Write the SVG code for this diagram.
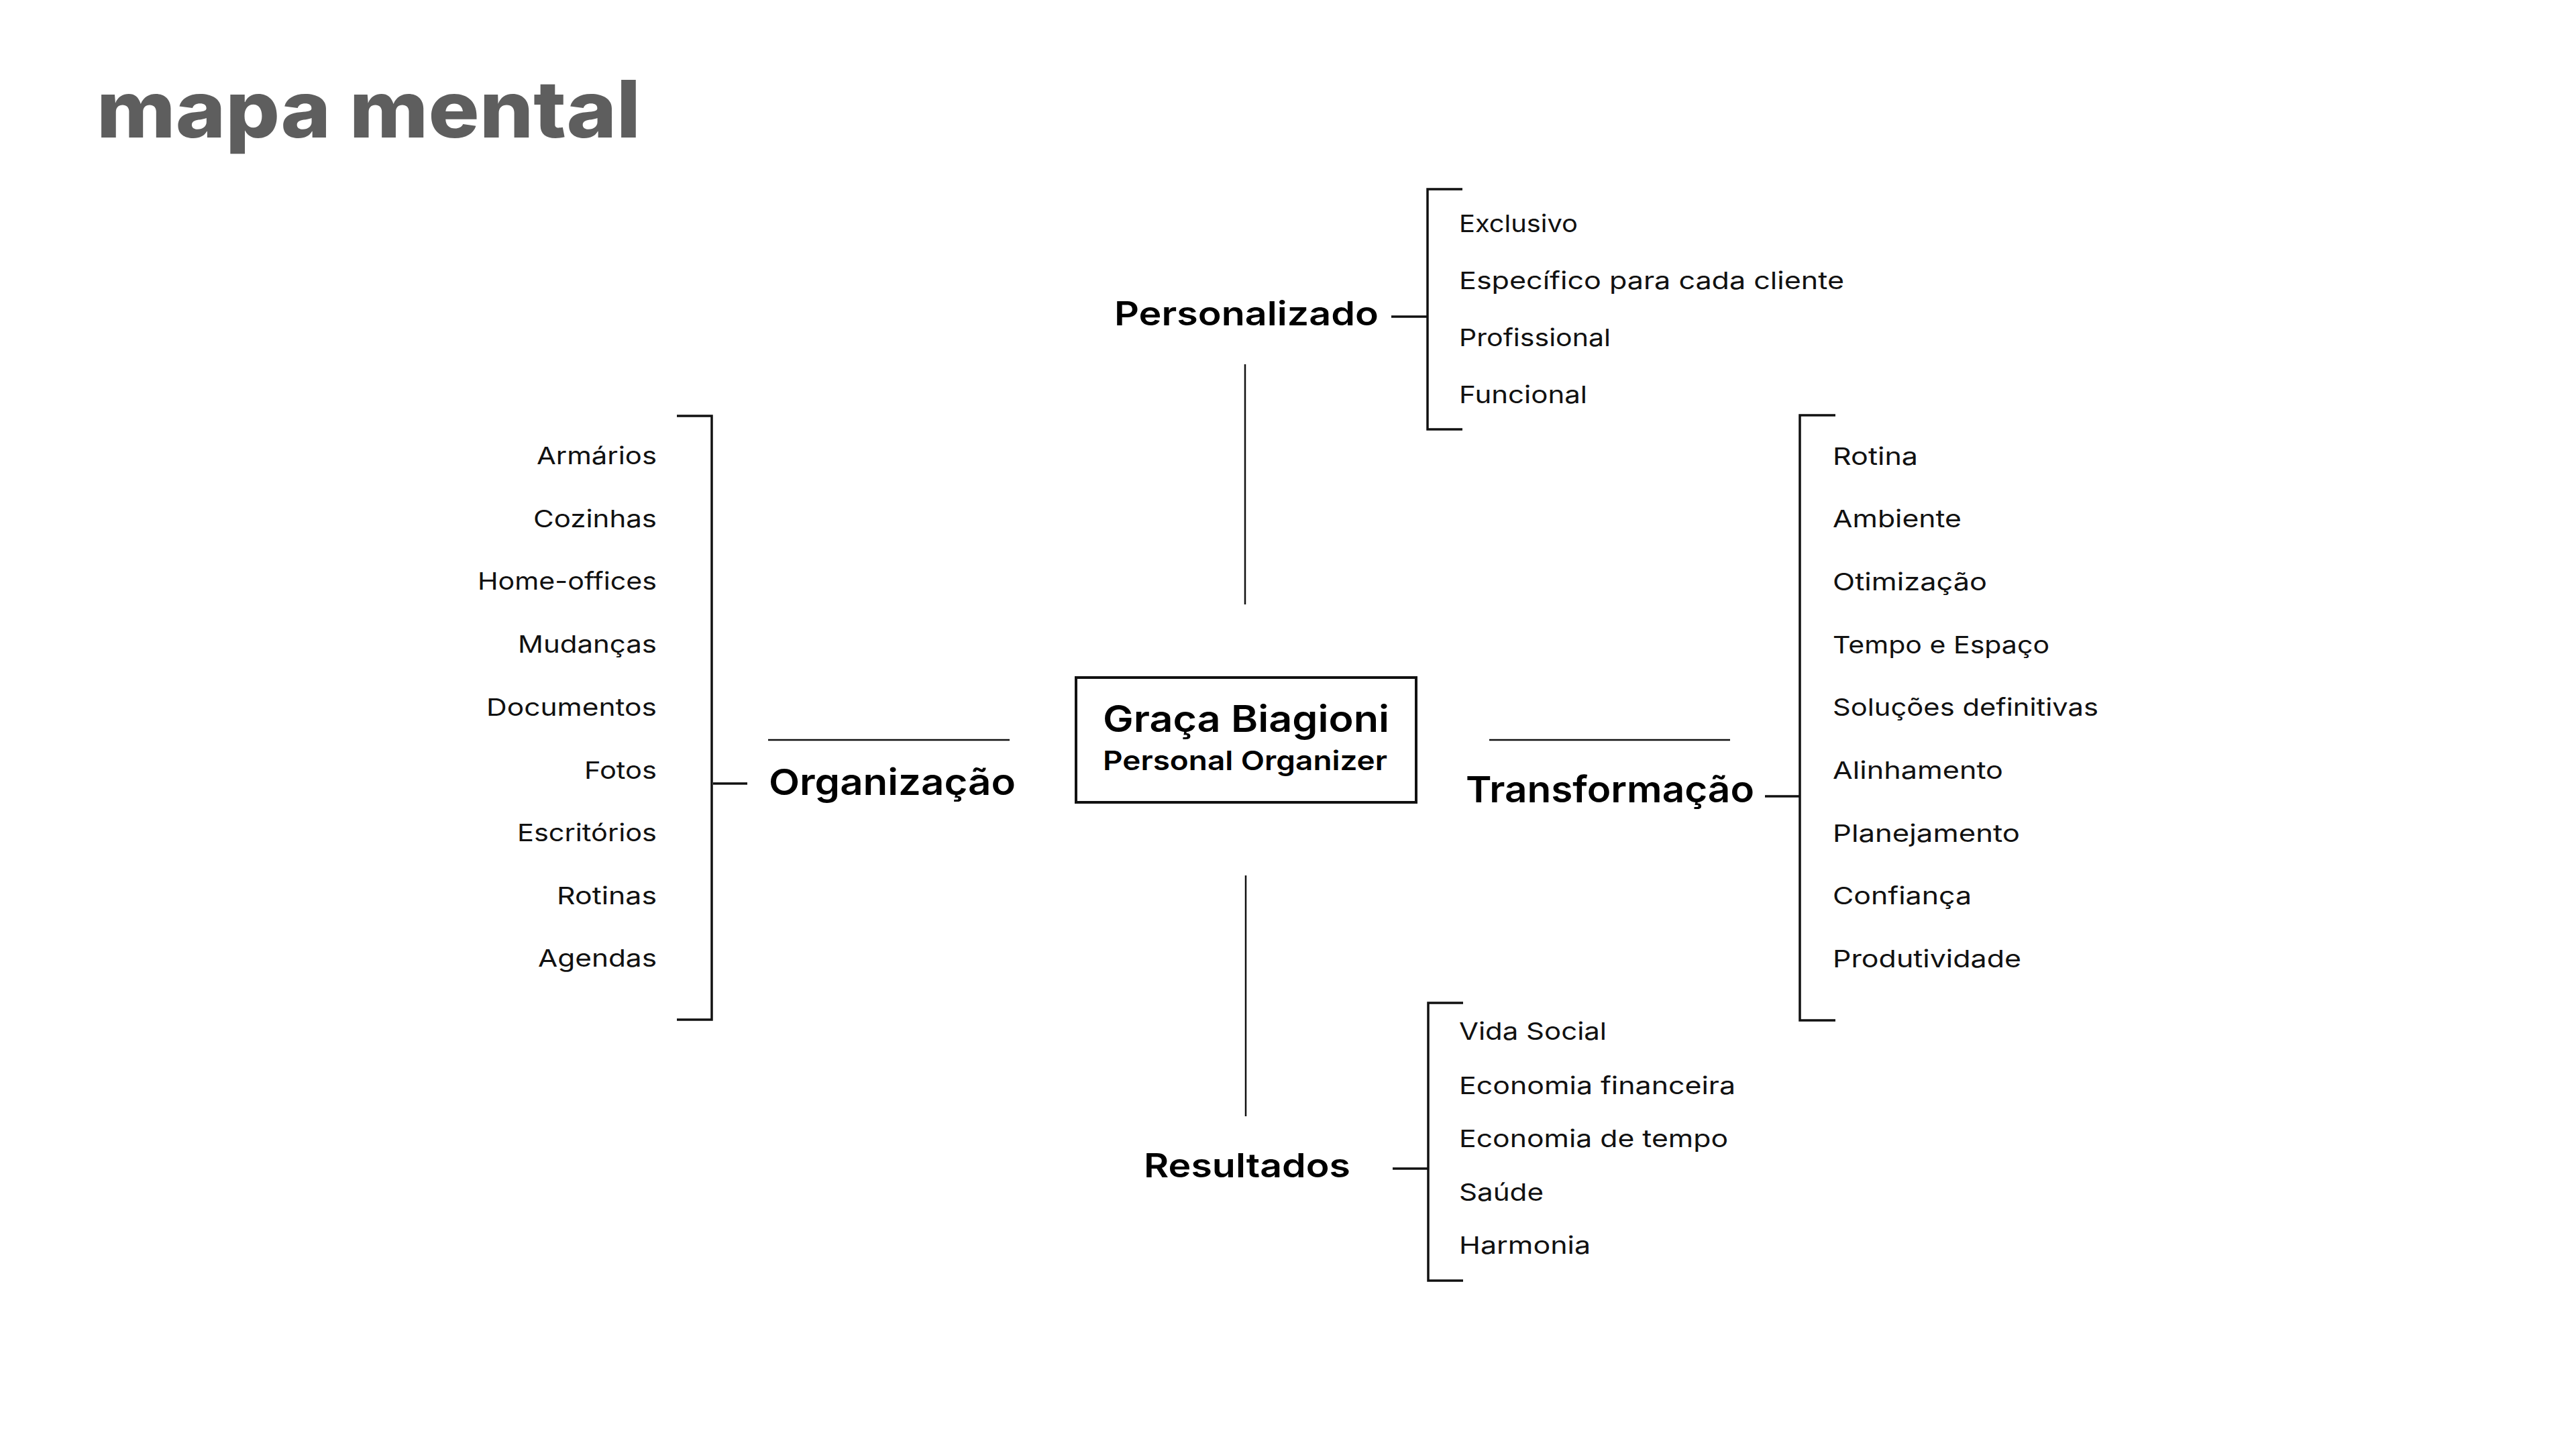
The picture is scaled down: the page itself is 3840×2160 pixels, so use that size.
<svg xmlns="http://www.w3.org/2000/svg" width="3840" height="2160" viewBox="0 0 3840 2160">
<style>
.title{font-family:Inter,"Liberation Sans",sans-serif;font-weight:800;font-size:118px;fill:#5e5e5e}
.lbl{font-family:Inter,"Liberation Sans",sans-serif;font-weight:600;fill:#000}
.item{font-family:Inter,"Liberation Sans",sans-serif;font-weight:400;font-size:36px;fill:#111}
.end{text-anchor:end}
.brk{fill:none;stroke:#111;stroke-width:3.5}
.thin{fill:none;stroke:#111;stroke-width:2.5}
.box{fill:#fff;stroke:#111;stroke-width:4}
</style>
<rect width="3840" height="2160" fill="#fff"/>
<text class="title" x="144" y="205" textLength="811" lengthAdjust="spacingAndGlyphs">mapa mental</text>

<g id="connectors">
<line class="thin" x1="1856" y1="543" x2="1856" y2="901"/>
<line class="thin" x1="1857" y1="1305" x2="1857" y2="1664"/>
<line class="thin" x1="1145" y1="1103" x2="1505" y2="1103"/>
<line class="thin" x1="2220" y1="1103" x2="2579" y2="1103"/>
<line class="brk" x1="1063" y1="1168" x2="1114" y2="1168"/>
<path class="brk" d="M1009 620 H1061 V1520 H1009"/>
<line class="brk" x1="2074" y1="472" x2="2128" y2="472"/>
<path class="brk" d="M2180 282 H2128 V640 H2180"/>
<line class="brk" x1="2631" y1="1187" x2="2683" y2="1187"/>
<path class="brk" d="M2736 619 H2683 V1521 H2736"/>
<line class="brk" x1="2076" y1="1742" x2="2129" y2="1742"/>
<path class="brk" d="M2181 1495 H2129 V1909 H2181"/>
</g>

<g id="center">
<rect class="box" x="1604" y="1010" width="507" height="186"/>
<text class="lbl" x="1644" y="1091" font-size="55" textLength="427" lengthAdjust="spacingAndGlyphs">Graça Biagioni</text>
<text class="lbl" x="1644" y="1148" font-size="40" textLength="424" lengthAdjust="spacingAndGlyphs">Personal Organizer</text>
</g>

<g id="personalizado">
<text class="lbl" x="1661" y="485" font-size="50" textLength="394" lengthAdjust="spacingAndGlyphs">Personalizado</text>
<text class="item" x="2175" y="346" textLength="177" lengthAdjust="spacingAndGlyphs">Exclusivo</text>
<text class="item" x="2175" y="431" textLength="574" lengthAdjust="spacingAndGlyphs">Específico para cada cliente</text>
<text class="item" x="2175" y="516" textLength="226" lengthAdjust="spacingAndGlyphs">Profissional</text>
<text class="item" x="2175" y="601" textLength="191" lengthAdjust="spacingAndGlyphs">Funcional</text>
</g>

<g id="organizacao">
<text class="lbl" x="1146" y="1185" font-size="54" textLength="368" lengthAdjust="spacingAndGlyphs">Organização</text>
<text class="item end" x="979" y="692" textLength="179" lengthAdjust="spacingAndGlyphs">Armários</text>
<text class="item end" x="979" y="786" textLength="184" lengthAdjust="spacingAndGlyphs">Cozinhas</text>
<text class="item end" x="979" y="879" textLength="267" lengthAdjust="spacingAndGlyphs">Home-offices</text>
<text class="item end" x="979" y="973" textLength="207" lengthAdjust="spacingAndGlyphs">Mudanças</text>
<text class="item end" x="979" y="1067" textLength="254" lengthAdjust="spacingAndGlyphs">Documentos</text>
<text class="item end" x="979" y="1161" textLength="108" lengthAdjust="spacingAndGlyphs">Fotos</text>
<text class="item end" x="979" y="1254" textLength="208" lengthAdjust="spacingAndGlyphs">Escritórios</text>
<text class="item end" x="979" y="1348" textLength="149" lengthAdjust="spacingAndGlyphs">Rotinas</text>
<text class="item end" x="979" y="1441" textLength="177" lengthAdjust="spacingAndGlyphs">Agendas</text>
</g>

<g id="transformacao">
<text class="lbl" x="2185" y="1196" font-size="54" textLength="430" lengthAdjust="spacingAndGlyphs">Transformação</text>
<text class="item" x="2732" y="693" textLength="127" lengthAdjust="spacingAndGlyphs">Rotina</text>
<text class="item" x="2732" y="786" textLength="192" lengthAdjust="spacingAndGlyphs">Ambiente</text>
<text class="item" x="2732" y="880" textLength="230" lengthAdjust="spacingAndGlyphs">Otimização</text>
<text class="item" x="2732" y="974" textLength="323" lengthAdjust="spacingAndGlyphs">Tempo e Espaço</text>
<text class="item" x="2732" y="1067" textLength="396" lengthAdjust="spacingAndGlyphs">Soluções definitivas</text>
<text class="item" x="2732" y="1161" textLength="254" lengthAdjust="spacingAndGlyphs">Alinhamento</text>
<text class="item" x="2732" y="1255" textLength="279" lengthAdjust="spacingAndGlyphs">Planejamento</text>
<text class="item" x="2732" y="1348" textLength="207" lengthAdjust="spacingAndGlyphs">Confiança</text>
<text class="item" x="2732" y="1442" textLength="281" lengthAdjust="spacingAndGlyphs">Produtividade</text>
</g>

<g id="resultados">
<text class="lbl" x="1705" y="1755" font-size="50" textLength="308" lengthAdjust="spacingAndGlyphs">Resultados</text>
<text class="item" x="2175" y="1550" textLength="220" lengthAdjust="spacingAndGlyphs">Vida Social</text>
<text class="item" x="2175" y="1631" textLength="412" lengthAdjust="spacingAndGlyphs">Economia financeira</text>
<text class="item" x="2175" y="1710" textLength="401" lengthAdjust="spacingAndGlyphs">Economia de tempo</text>
<text class="item" x="2175" y="1790" textLength="126" lengthAdjust="spacingAndGlyphs">Saúde</text>
<text class="item" x="2175" y="1869" textLength="196" lengthAdjust="spacingAndGlyphs">Harmonia</text>
</g>
</svg>
